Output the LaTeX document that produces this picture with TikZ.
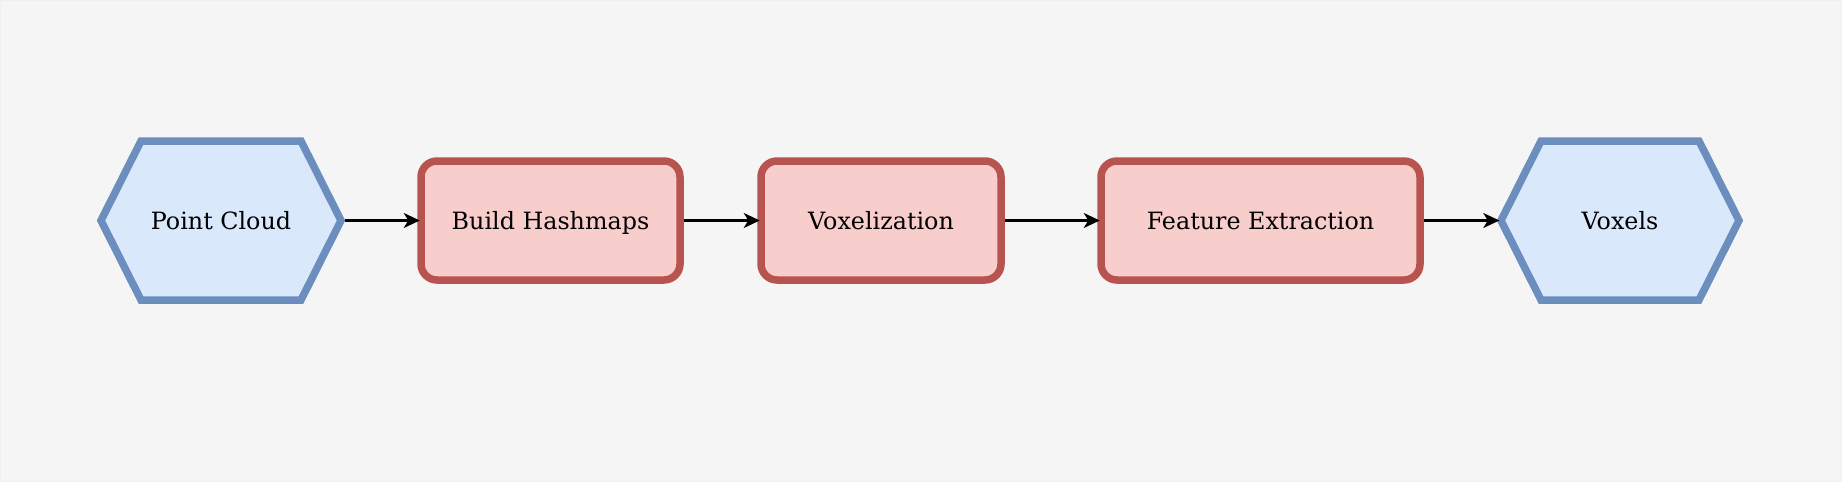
\documentclass[tikz,border=0pt]{standalone}
\usepackage{fontspec}
\setmainfont{DejaVu Serif}
\usetikzlibrary{shapes.symbols,arrows.meta}
\definecolor{bgc}{HTML}{F5F5F5}
\definecolor{bluefill}{HTML}{DAE8FC}
\definecolor{bluestroke}{HTML}{6C8EBF}
\definecolor{redfill}{HTML}{F8CECC}
\definecolor{redstroke}{HTML}{B85450}
\tikzset{
  labelfont/.style={font=\fontsize{23.8}{28}\selectfont, text height=19.5pt, text depth=2.5pt},
  hexnode/.style={signal, signal to=east and west, signal pointer angle=126.6,
    draw=bluestroke, fill=bluefill, line width=7.5pt, minimum height=159pt,
    inner sep=0pt, labelfont},
  procbox/.style={rectangle, rounded corners=16pt, draw=redstroke, fill=redfill,
    line width=7.5pt, minimum height=119pt, inner sep=0pt, labelfont},
  flow/.style={line width=2.2pt, -{Stealth[length=16pt,width=15pt,inset=4.5pt]}, black, shorten >=-2.5pt}
}
\begin{document}
\begin{tikzpicture}[x=1pt,y=-1pt]
\fill[bgc] (0,0) rectangle (1842,482);
\draw[white!94!black, line width=1pt] (0.5,0.5) rectangle (1841.5,481.5);
\useasboundingbox (0,0) rectangle (1842,482);
\node[hexnode, minimum width=240pt] (pc) at (221,220.5) {Point Cloud};
\node[procbox, minimum width=259pt] (bh) at (550.5,220.5) {Build Hashmaps};
\node[procbox, minimum width=240pt] (vx) at (881,220.5) {Voxelization};
\node[procbox, minimum width=319pt] (fe) at (1260.5,220.5) {Feature Extraction};
\node[hexnode, minimum width=238pt] (vo) at (1620,220.5) {Voxels};
\draw[flow] (pc.east) -- (bh.west);
\draw[flow] (bh.east) -- (vx.west);
\draw[flow] (vx.east) -- (fe.west);
\draw[flow] (fe.east) -- (vo.west);
\end{tikzpicture}
\end{document}
